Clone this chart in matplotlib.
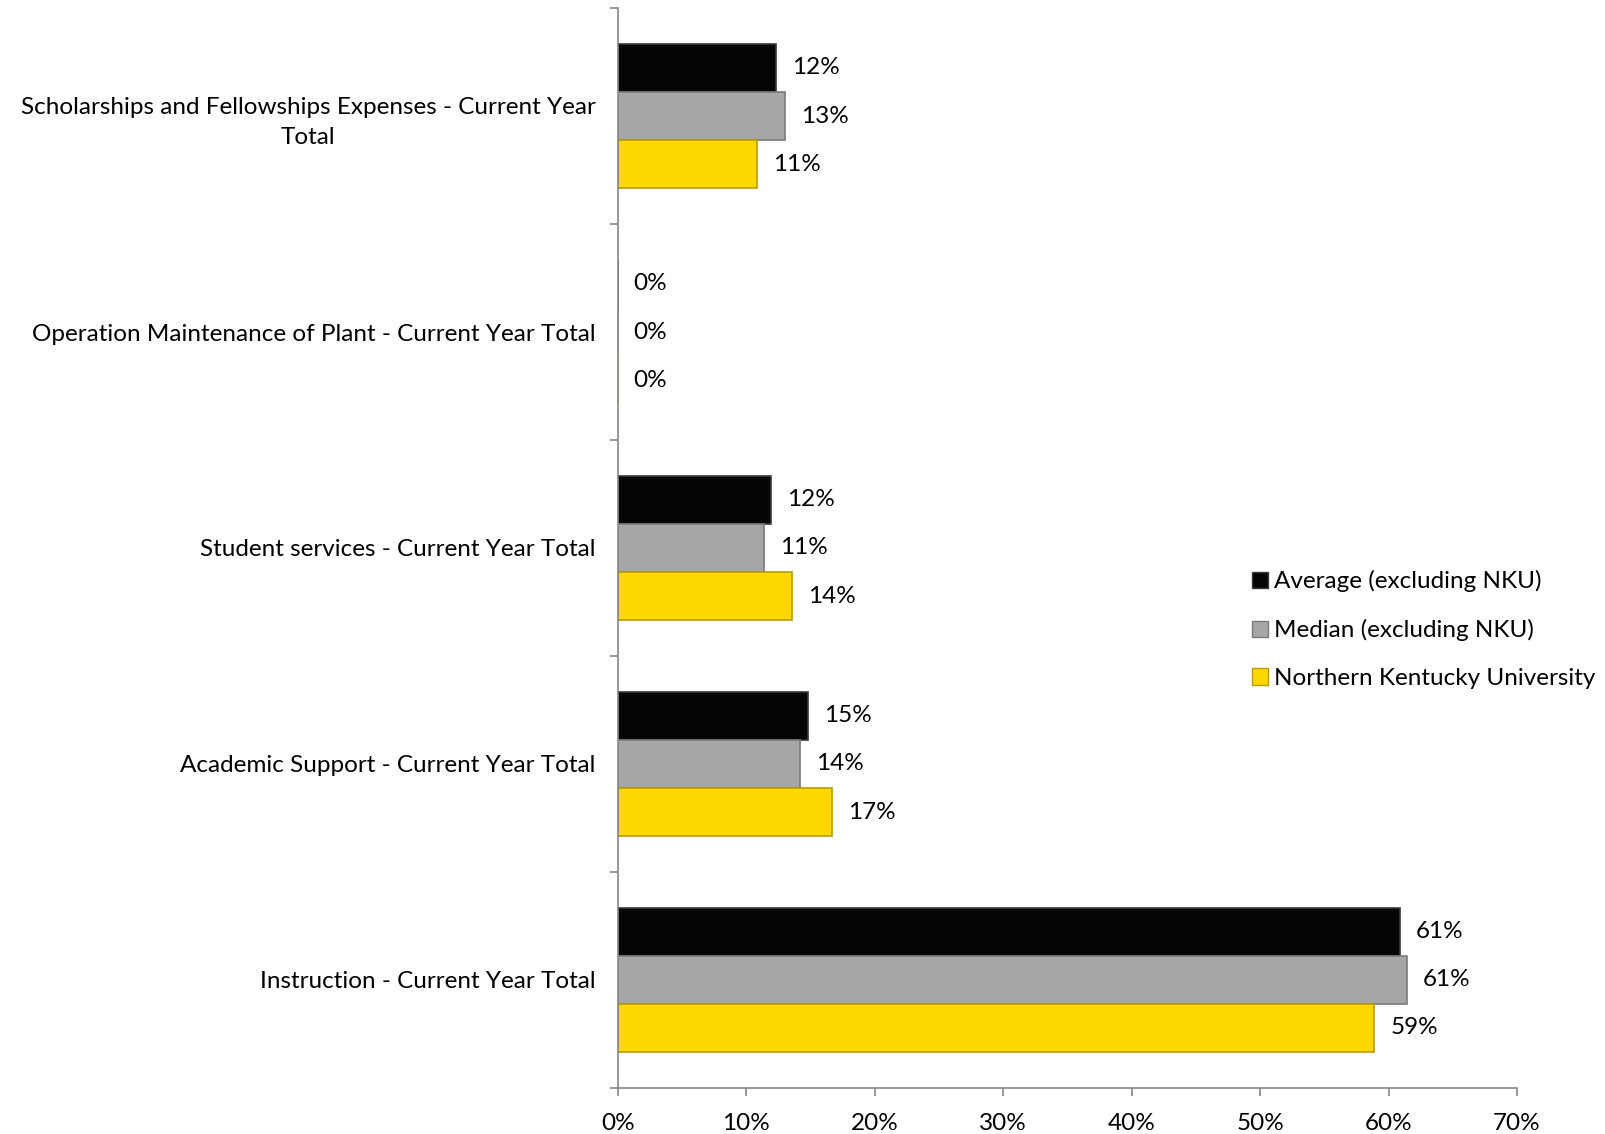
"""
Expense categories as share of total: NKU vs peer average / median.
Horizontal grouped bar chart, Excel-style.
"""
import numpy as np
import matplotlib
matplotlib.use("Agg")
import matplotlib.pyplot as plt
from matplotlib.patches import Patch

plt.rcParams["font.family"] = ["Lato", "DejaVu Sans"]

# categories listed top to bottom
categories = [
    "Scholarships and Fellowships Expenses - Current Year\nTotal",
    "Operation Maintenance of Plant - Current Year Total",
    "Student services - Current Year Total",
    "Academic Support - Current Year Total",
    "Instruction - Current Year Total",
]
series_names = [
    "Average (excluding NKU)",
    "Median (excluding NKU)",
    "Northern Kentucky University",
]
average_vals = [0.1236, 0.0, 0.1190, 0.1482, 0.6090]
median_vals = [0.1300, 0.0, 0.1140, 0.1420, 0.6140]
nku_vals = [0.1085, 0.0, 0.1360, 0.1670, 0.5890]
x_ticks = [0.0, 0.1, 0.2, 0.3, 0.4, 0.5, 0.6, 0.7]

face_colors = ["#050505", "#a6a6a6", "#ffd700"]
edge_colors = ["#3a3a3a", "#7a7a7a", "#b89c00"]
axis_gray = "#868686"
fs = 17.5

fig = plt.figure(figsize=(16.06, 11.34), dpi=100)
ax = fig.add_axes([0.3846, 0.0408, 0.5600, 0.9520])

n = len(categories)
centers = np.arange(n)[::-1] + 0.5   # top category has highest y
bar_h = 0.223
offsets = [bar_h, 0.0, -bar_h]

for vals, off, fc, ec in zip([average_vals, median_vals, nku_vals],
                             offsets, face_colors, edge_colors):
    ax.barh(centers + off, vals, height=bar_h, color=fc,
            edgecolor=ec, linewidth=1.2, zorder=2)
    for y, v in zip(centers + off, vals):
        ax.text(v + 0.0125, y, f"{v * 100:.0f}%", va="center", ha="left",
                fontsize=fs, color="black")

ax.set_xlim(0, 0.7)
ax.set_ylim(0, n)
ax.set_xticks(x_ticks)
ax.set_xticklabels([f"{t * 100:.0f}%" for t in x_ticks], fontsize=fs)

# category labels at group centers, tick marks at group boundaries
ax.set_yticks(centers)
ax.set_yticklabels(categories, fontsize=fs)
ax.tick_params(axis="y", which="major", length=0, pad=16)
ax.set_yticks(np.arange(0, n + 1), minor=True)
ax.tick_params(axis="y", which="minor", length=6, color=axis_gray, width=1.2)
ax.tick_params(axis="x", length=6, color=axis_gray, width=1.2, pad=12)
for lbl in ax.get_yticklabels():
    lbl.set_multialignment("center")
    lbl.set_linespacing(1.55)

for side in ["top", "right"]:
    ax.spines[side].set_visible(False)
for side in ["left", "bottom"]:
    ax.spines[side].set_color(axis_gray)
    ax.spines[side].set_linewidth(1.2)

handles = [Patch(facecolor=fc, edgecolor=ec) for fc, ec in zip(face_colors, edge_colors)]
fig.legend(handles, series_names, loc="upper left", bbox_to_anchor=(0.7794, 0.497),
           frameon=False, fontsize=fs, handlelength=0.65, handleheight=0.65,
           handletextpad=0.25, labelspacing=1.1, borderaxespad=0, borderpad=0)

fig.savefig("out.png", dpi=100)
